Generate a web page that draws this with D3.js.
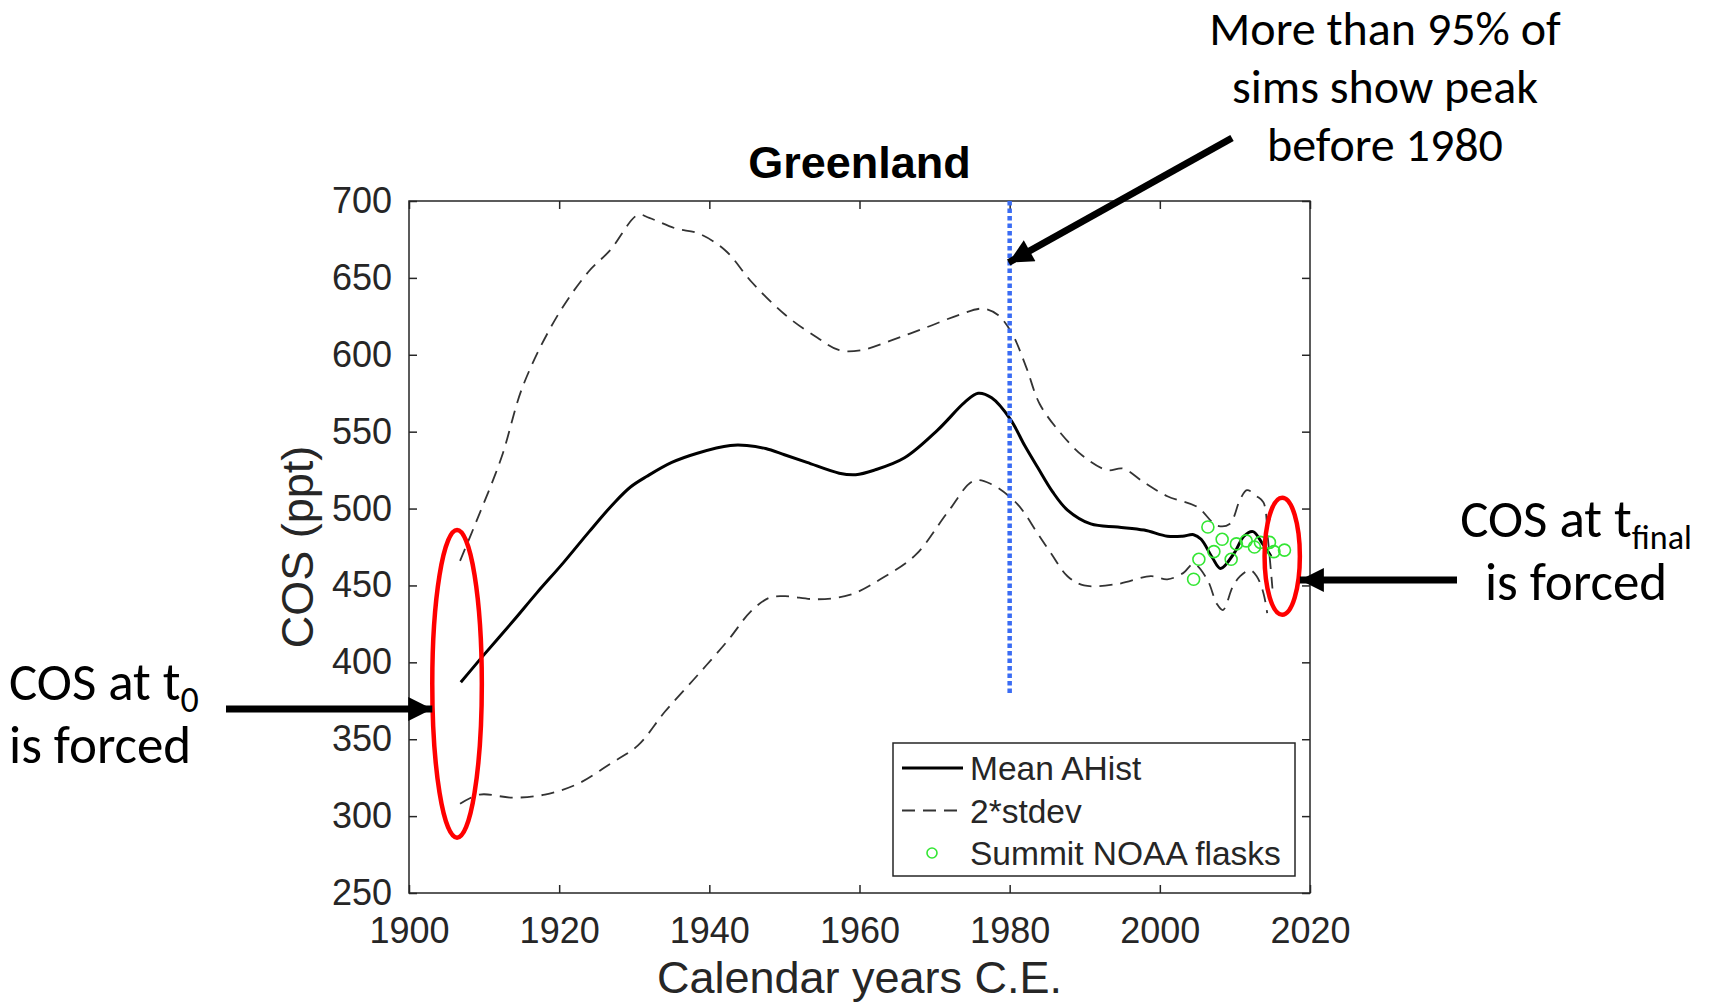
<!DOCTYPE html>
<html lang="en">
  <head>
    <meta charset="UTF-8" />
    <title>Greenland COS</title>
    <script src="https://cdn.jsdelivr.net/npm/d3@7"></script>
    <style>
      body { margin: 0; background: #fff; }
      .tick text { font-family: "Liberation Sans", Arial, sans-serif; font-size: 36px; fill: #262626; }
      .axis path, .axis line { stroke: #262626; stroke-width: 1.5; }
      .note { font-family: Carlito, Calibri, Lato, sans-serif; fill: #000; }
    </style>
  </head>
  <body>
    <div id="chart"></div>
    <script>
      // tick labels
      const xTicks = [1900, 1920, 1940, 1960, 1980, 2000, 2020];
      const yTicks = [250, 300, 350, 400, 450, 500, 550, 600, 650, 700];

      // Mean AHist [year, ppt]
      const meanLine = [
        [1906.9, 387], [1910, 405], [1913.9, 427], [1917, 445], [1920.6, 465],
        [1924, 485], [1927.2, 503], [1929.5, 514], [1931.7, 521], [1935, 530],
        [1938.4, 536], [1942.8, 541], [1945, 541], [1947.5, 539], [1950, 535],
        [1953, 530], [1957.3, 523], [1959.5, 522], [1962, 525], [1966, 533],
        [1970.4, 551], [1974, 569], [1975.8, 575], [1977.6, 572], [1980.1, 558],
        [1982, 541], [1983.7, 527], [1985.7, 511], [1987.7, 499], [1990.8, 490],
        [1994.4, 488], [1997.9, 486], [2001, 482], [2003, 482], [2004.5, 483],
        [2005.5, 480], [2007, 468], [2008.1, 461], [2009.9, 471], [2011.2, 482],
        [2012.4, 485], [2013.7, 477], [2014.8, 469]
      ];

      // mean + 2*stdev
      const upperLine = [
        [1906.8, 466], [1909, 492], [1912.3, 533], [1915.2, 580], [1919.6, 624],
        [1923.9, 654], [1926.8, 668], [1930.5, 691], [1932, 689], [1935.6, 682],
        [1938.5, 679], [1942.1, 668], [1945.7, 647], [1950.1, 626], [1954.4, 611],
        [1957.3, 603], [1960.2, 603], [1964.6, 610], [1969, 618], [1973.3, 626],
        [1976.4, 630], [1978.4, 626], [1980.3, 614], [1982.2, 592], [1984, 568],
        [1986.8, 549], [1989.8, 534], [1993, 525], [1995.1, 526], [1997.9, 517],
        [2001, 508], [2005, 501], [2007.6, 489], [2009.3, 490], [2010.7, 506],
        [2011.6, 512], [2012.9, 508], [2013.8, 504], [2014.4, 480], [2015, 448]
      ];

      // mean - 2*stdev
      const lowerLine = [
        [1906.8, 308], [1909.4, 314], [1913.8, 312], [1918.1, 314], [1922.5, 321],
        [1926.8, 334], [1930.5, 346], [1934.1, 368], [1938.5, 392], [1942.6, 415],
        [1945.5, 433], [1948, 442], [1950.1, 443], [1954.4, 441], [1958.8, 444],
        [1963.1, 455], [1967.5, 470], [1971.8, 498], [1975.2, 518], [1977.5, 516],
        [1981, 503], [1983.7, 484], [1985.5, 471], [1987.7, 456], [1989.9, 450],
        [1994.4, 451], [1998.8, 456], [2001, 454], [2003.1, 458], [2004.5, 464],
        [2006.3, 454], [2007.6, 438], [2008.4, 434], [2009.7, 449], [2010.7, 456],
        [2012, 460], [2012.9, 456], [2013.8, 445], [2014.3, 432]
      ];

      // Summit NOAA flasks
      const flasks = [
        [2004.5, 454], [2005.2, 467], [2006.4, 488], [2007.2, 472], [2008.3, 480],
        [2009.5, 467], [2010.2, 477], [2011.5, 479], [2012.6, 475], [2013.4, 478],
        [2014.6, 478], [2015.2, 472], [2016.6, 473]
      ];

      const peakYear = 1980;
      const peakRange = [380, 700];
      // forced start / end ellipses: [year, ppt, halfYears, halfPpt]
      const forcedStart = [1906.4, 386, 3.3, 100];
      const forcedEnd = [2016.3, 469, 2.35, 38];

      const width = 1710, height = 1008;
      const x = d3.scaleLinear().domain([1900, 2020]).range([409, 1310]);
      const y = d3.scaleLinear().domain([250, 700]).range([893, 201]);

      const svg = d3.select("#chart").append("svg")
        .attr("width", width).attr("height", height)
        .style("font-family", "'Liberation Sans', Arial, sans-serif");

      svg.append("defs").append("marker")
        .attr("id", "head")
        .attr("viewBox", "0 0 10 10")
        .attr("refX", 10).attr("refY", 5)
        .attr("markerUnits", "userSpaceOnUse")
        .attr("markerWidth", 26).attr("markerHeight", 24)
        .attr("orient", "auto")
        .append("path").attr("d", "M0,0L10,5L0,10Z").attr("fill", "#000");

      // axes
      svg.append("g").attr("class", "axis")
        .attr("transform", `translate(0,${y(250)})`)
        .call(d3.axisBottom(x).tickValues(xTicks).tickSizeInner(-8).tickSizeOuter(0).tickPadding(24).tickFormat(d3.format("d")));
      svg.append("g").attr("class", "axis")
        .attr("transform", `translate(0,${y(700)})`)
        .call(d3.axisTop(x).tickValues(xTicks).tickSizeInner(-8).tickSizeOuter(0).tickFormat(""));
      svg.append("g").attr("class", "axis")
        .attr("transform", `translate(${x(1900)},0)`)
        .call(d3.axisLeft(y).tickValues(yTicks).tickSizeInner(-8).tickSizeOuter(0).tickPadding(17));
      svg.append("g").attr("class", "axis")
        .attr("transform", `translate(${x(2020)},0)`)
        .call(d3.axisRight(y).tickValues(yTicks).tickSizeInner(-8).tickSizeOuter(0).tickFormat(""));
      svg.selectAll(".axis .domain").remove();
      svg.append("rect")
        .attr("x", x(1900)).attr("y", y(700))
        .attr("width", x(2020) - x(1900)).attr("height", y(250) - y(700))
        .attr("fill", "none").attr("stroke", "#262626").attr("stroke-width", 1.5);

      // titles
      svg.append("text").attr("x", (x(1900) + x(2020)) / 2).attr("y", 178)
        .attr("text-anchor", "middle").attr("font-size", 45).attr("font-weight", "bold")
        .attr("fill", "#000").text("Greenland");
      svg.append("text").attr("x", (x(1900) + x(2020)) / 2).attr("y", 993)
        .attr("text-anchor", "middle").attr("font-size", 45).attr("fill", "#262626")
        .text("Calendar years C.E.");
      svg.append("text")
        .attr("transform", `translate(313,${(y(250) + y(700)) / 2}) rotate(-90)`)
        .attr("text-anchor", "middle").attr("font-size", 45).attr("fill", "#262626")
        .text("COS (ppt)");

      const line = d3.line().x(d => x(d[0])).y(d => y(d[1])).curve(d3.curveCatmullRom);

      svg.append("path").datum(upperLine).attr("d", line)
        .attr("fill", "none").attr("stroke", "#333").attr("stroke-width", 1.8).attr("stroke-dasharray", "13,8");
      svg.append("path").datum(lowerLine).attr("d", line)
        .attr("fill", "none").attr("stroke", "#333").attr("stroke-width", 1.8).attr("stroke-dasharray", "13,8");
      svg.append("path").datum(meanLine).attr("d", line)
        .attr("fill", "none").attr("stroke", "#000").attr("stroke-width", 3);

      svg.selectAll(".flask").data(flasks).enter().append("circle")
        .attr("class", "flask")
        .attr("cx", d => x(d[0])).attr("cy", d => y(d[1])).attr("r", 6)
        .attr("fill", "none").attr("stroke", "#33e633").attr("stroke-width", 1.6);

      // 1980 marker
      svg.append("line")
        .attr("x1", x(peakYear)).attr("x2", x(peakYear))
        .attr("y1", y(peakRange[1])).attr("y2", y(peakRange[0]))
        .attr("stroke", "#3a6cf4").attr("stroke-width", 4.5).attr("stroke-dasharray", "4.5,3");

      // legend
      const lg = svg.append("g").attr("transform", "translate(893,743)");
      lg.append("rect").attr("width", 402).attr("height", 133)
        .attr("fill", "#fff").attr("stroke", "#262626").attr("stroke-width", 1.5);
      const rows = [
        { label: "Mean AHist", dash: null },
        { label: "2*stdev", dash: "13,8" },
        { label: "Summit NOAA flasks", dash: "circle" }
      ];
      rows.forEach((r, i) => {
        const cy = 25 + i * 42.5;
        if (r.dash === "circle") {
          lg.append("circle").attr("cx", 39).attr("cy", cy).attr("r", 5)
            .attr("fill", "none").attr("stroke", "#33e633").attr("stroke-width", 1.6);
        } else {
          lg.append("line").attr("x1", 9).attr("x2", 70).attr("y1", cy).attr("y2", cy)
            .attr("stroke", r.dash ? "#333" : "#000")
            .attr("stroke-width", r.dash ? 1.8 : 3)
            .attr("stroke-dasharray", r.dash);
        }
        lg.append("text").attr("x", 77).attr("y", cy).attr("dy", "0.36em")
          .attr("font-size", 33.5).attr("fill", "#262626").text(r.label);
      });

      // forced ellipses
      [forcedStart, forcedEnd].forEach(e => {
        svg.append("ellipse")
          .attr("cx", x(e[0])).attr("cy", y(e[1]))
          .attr("rx", x(e[0] + e[2]) - x(e[0])).attr("ry", y(e[1] - e[3]) - y(e[1]))
          .attr("fill", "none").attr("stroke", "#f00").attr("stroke-width", 4.5);
      });

      // arrows
      const arrow = (x1, y1, x2, y2) => svg.append("line")
        .attr("x1", x1).attr("y1", y1).attr("x2", x2).attr("y2", y2)
        .attr("stroke", "#000").attr("stroke-width", 7).attr("marker-end", "url(#head)");
      arrow(226, 709, x(forcedStart[0] - forcedStart[2]), 709);
      arrow(1457, 580, x(forcedEnd[0] + forcedEnd[2]), 580);
      arrow(1232, 138, x(peakYear) - 1, y(660));

      // notes
      const noteTop = svg.append("text").attr("class", "note")
        .style("font-size", "48px").attr("text-anchor", "middle");
      ["More than 95% of", "sims show peak", "before 1980"].forEach((t, i) => {
        noteTop.append("tspan").attr("x", 1385).attr("y", 45 + i * 58).text(t);
      });

      const noteLeft = svg.append("text").attr("class", "note").style("font-size", "53px");
      noteLeft.append("tspan").attr("x", 9).attr("y", 700).text("COS at t");
      noteLeft.append("tspan").style("font-size", "36px").attr("dy", 12).text("0");
      noteLeft.append("tspan").attr("x", 9).attr("y", 763).text("is forced");

      const noteRight = svg.append("text").attr("class", "note")
        .style("font-size", "53px").attr("text-anchor", "middle");
      noteRight.append("tspan").attr("x", 1576).attr("y", 537).text("COS at t");
      noteRight.append("tspan").style("font-size", "34px").attr("dy", 12).text("final");
      noteRight.append("tspan").attr("x", 1576).attr("y", 600).text("is forced");
    </script>
  </body>
</html>
